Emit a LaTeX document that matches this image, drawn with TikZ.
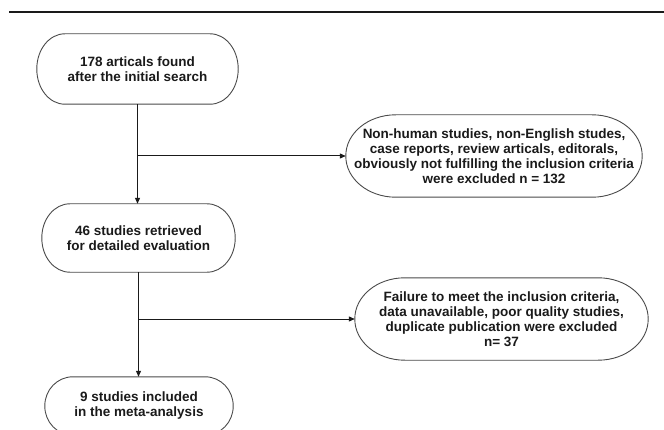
\documentclass[tikz,border=0pt]{standalone}
\usepackage{fontspec}
\setmainfont{Liberation Sans}
\usetikzlibrary{arrows.meta}
\definecolor{boxgray}{HTML}{4A4A4A}
\definecolor{inkc}{HTML}{1A1A1A}
\newcommand\myebox[3]{%
  \draw[boxline] ([xshift=#2]#1.north west) -- ([xshift=-#2]#1.north east)
    arc[start angle=90,end angle=0,x radius=#2,y radius=#3]
    -- ([yshift=#3]#1.south east)
    arc[start angle=0,end angle=-90,x radius=#2,y radius=#3]
    -- ([xshift=#2]#1.south west)
    arc[start angle=270,end angle=180,x radius=#2,y radius=#3]
    -- ([yshift=-#3]#1.north west)
    arc[start angle=180,end angle=90,x radius=#2,y radius=#3] -- cycle;}
\tikzset{
  boxline/.style={draw=boxgray, line width=0.9pt},
  flowbox/.style={inner sep=0pt, align=center, text=inkc,
    font=\fontsize{13.5}{15}\selectfont\bfseries},
  conn/.style={draw=inkc, line width=1pt},
  arr/.style={conn, -{Triangle[length=6pt,width=5pt]}}
}
\begin{document}
\begin{tikzpicture}[x=1pt,y=1pt]
\useasboundingbox (0,0) rectangle (664,429);
\clip (0,0) rectangle (664,429);
\coordinate (rl) at (9,417);
\coordinate (rr) at (664,417);
\draw[draw=inkc, line width=2.2pt] (rl) -- (rr);

\node[flowbox, minimum width=201pt, minimum height=70pt] (b1) at (137.5,360)
  {178 articals found\\after the initial search};
\node[flowbox, minimum width=193pt, minimum height=68pt] (b2) at (138.5,191)
  {46 studies retrieved\\for detailed evaluation};
\node[flowbox, minimum width=188pt, minimum height=58pt] (b3) at (139,23)
  {9 studies included\\in the meta-analysis};
\node[flowbox, minimum width=296pt, minimum height=82pt] (r1) at (494,273)
  {Non-human studies, non-English studes,\\case reports, review articals, editorals,\\obviously not fulfilling the inclusion criteria\\were excluded n = 132};
\node[flowbox, minimum width=293pt, minimum height=82pt] (r2) at (501.5,110)
  {Failure to meet the inclusion criteria,\\data unavailable, poor quality studies,\\duplicate publication were excluded\\n= 37};

\myebox{b1}{28pt}{35pt}
\myebox{b2}{28pt}{34pt}
\myebox{b3}{28pt}{29pt}
\myebox{r1}{50pt}{41pt}
\myebox{r2}{50pt}{41pt}

\draw[arr] (b1.south) -- (b1.south |- b2.north);
\draw[arr] (b1.south |- r1.west) -- (r1.west);
\draw[arr] (b2.south) -- (b2.south |- b3.north);
\draw[arr] (b2.south |- r2.west) -- (r2.west);
\end{tikzpicture}
\end{document}
